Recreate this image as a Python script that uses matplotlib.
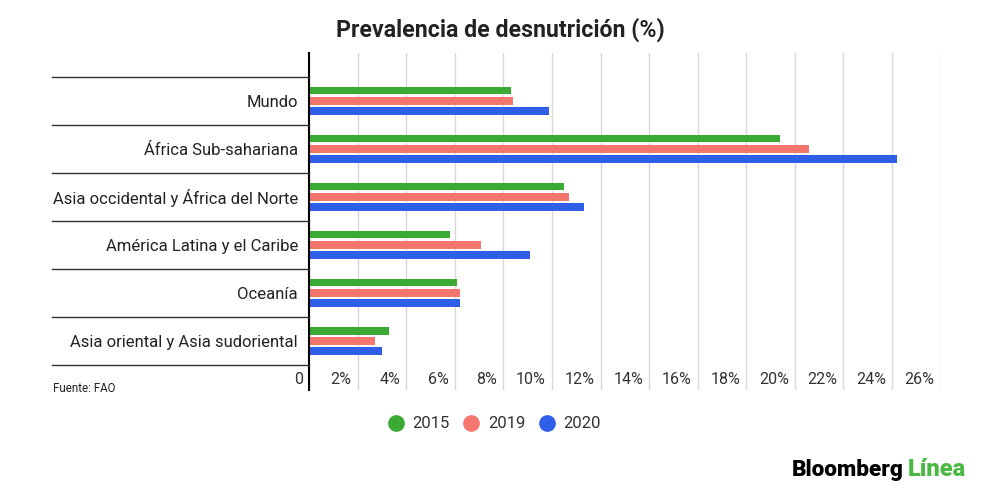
import numpy as np
import matplotlib.pyplot as plt
import matplotlib.transforms as mtransforms
from matplotlib.lines import Line2D

plt.rcParams['font.family'] = ['Roboto', 'DejaVu Sans']

# data (%)
regions = ["Mundo", "África Sub-sahariana", "Asia occidental y África del Norte",
           "América Latina y el Caribe", "Oceanía", "Asia oriental y Asia sudoriental"]
years = ["2015", "2019", "2020"]
v2015 = [8.3, 19.4, 10.5, 5.8, 6.1, 3.3]
v2019 = [8.4, 20.6, 10.7, 7.1, 6.2, 2.7]
v2020 = [9.9, 24.2, 11.3, 9.1, 6.2, 3.0]
ticks = list(range(0, 27, 2))
tick_labels = ["0"] + [f"{t}%" for t in ticks[1:]]

colors = ["#3aaa35", "#f4766c", "#2f5fe8"]
txt = "#222222"

fig = plt.figure(figsize=(10, 5), dpi=100)
ax = fig.add_axes([0.309, 0.22, 0.6316, 0.6746])

y = np.arange(len(regions))
for k, vals in enumerate([v2015, v2019, v2020]):
    ax.barh(y + (k - 1) * 0.215, vals, height=0.16, color=colors[k], zorder=3)

ax.set_xlim(0, 26)
ax.set_ylim(6.02, -1.0)
ax.set_xticks(ticks)
ax.tick_params(axis='x', length=0, labelbottom=False)
ax.grid(axis='x', color='#d9d9d9', linewidth=1, zorder=0)
for s in ['top', 'right', 'bottom']:
    ax.spines[s].set_visible(False)
ax.spines['left'].set_color('black')
ax.spines['left'].set_linewidth(1.5)
ax.spines['left'].set_zorder(4)

# x tick labels sit inside the plot, just left of each gridline
off = mtransforms.ScaledTranslation(-6 / 100, 0, fig.dpi_scale_trans)
trx = mtransforms.blended_transform_factory(ax.transData, ax.transAxes) + off
for t, lab in zip(ticks, tick_labels):
    ax.text(t, 0.03, lab, transform=trx, ha='right', va='center',
            fontsize=11.5, color='#333333')

ax.set_yticks(y)
ax.set_yticklabels(regions, fontsize=12, color=txt)
ax.tick_params(axis='y', length=0, pad=8)

# separators to the left of the axis
tr_sep = mtransforms.blended_transform_factory(ax.transAxes, ax.transData)
for b in np.arange(-0.5, 6.0, 1.0):
    ax.plot([-0.4074, 0], [b, b], transform=tr_sep, color='#333333',
            linewidth=1, clip_on=False, zorder=5)

fig.text(0.5, 0.94, "Prevalencia de desnutrición (%)", ha='center', va='center',
         fontsize=16.7, fontweight='bold', color=txt)
fig.text(0.053, 0.224, "Fuente: FAO", ha='left', va='center', fontsize=8.3, color=txt)

handles = [Line2D([], [], marker='o', linestyle='none', markersize=11,
                  color=c) for c in colors]
fig.legend(handles, years, loc='center', bbox_to_anchor=(0.495, 0.152), ncol=3,
           frameon=False, fontsize=12, handlelength=0.8, handletextpad=0.6,
           columnspacing=0.9, labelcolor='#333333')

t1 = fig.text(0.792, 0.06, "Bloomberg", ha='left', va='center', fontsize=16.2,
              fontweight='heavy', color='black')
ax.annotate("Línea", xy=(1, 0.5), xycoords=t1, xytext=(3, 0),
            textcoords='offset points', va='center', ha='left', fontsize=17,
            fontweight='heavy', color='#4cb944', annotation_clip=False)

fig.savefig("out.png", dpi=100, facecolor='white')
